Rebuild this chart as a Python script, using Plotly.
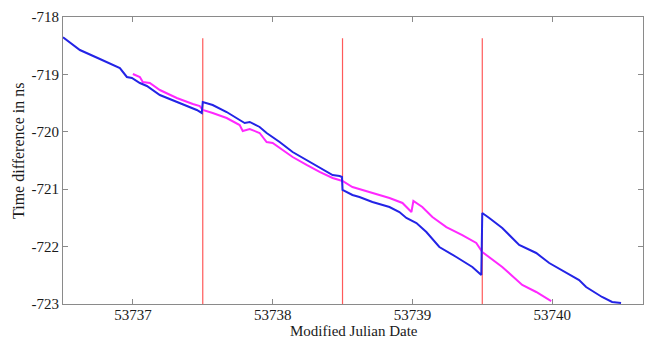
import plotly.graph_objects as go

# Blue series (MJD, time difference in ns)
blue_mjd = [53736.50, 53736.621, 53736.764, 53736.907, 53736.957, 53736.993, 53737.050, 53737.100,
            53737.193, 53737.314, 53737.407, 53737.457, 53737.493, 53737.500, 53737.571, 53737.671,
            53737.764, 53737.800, 53737.836, 53737.907, 53737.957, 53738.050, 53738.143, 53738.243,
            53738.336, 53738.429, 53738.479, 53738.496, 53738.500, 53738.571, 53738.621, 53738.714,
            53738.836, 53738.907, 53738.957, 53739.029, 53739.100, 53739.193, 53739.314, 53739.429,
            53739.493, 53739.500, 53739.550, 53739.643, 53739.764, 53739.886, 53739.979, 53740.071,
            53740.193, 53740.243, 53740.357, 53740.429, 53740.493]
blue_val = [-718.354, -718.575, -718.732, -718.889, -719.045, -719.063, -719.150, -719.202,
            -719.359, -719.481, -719.568, -719.620, -719.672, -719.480, -719.533, -719.655,
            -719.794, -719.847, -719.829, -719.916, -720.021, -720.178, -720.352, -720.491,
            -720.613, -720.753, -720.770, -720.787, -721.010, -721.101, -721.136, -721.223,
            -721.310, -721.397, -721.502, -721.589, -721.746, -722.007, -722.181, -722.355,
            -722.495, -721.415, -721.502, -721.676, -721.972, -722.111, -722.286, -722.408,
            -722.582, -722.704, -722.878, -722.965, -722.983]

# Magenta series
mag_mjd = [53737.000, 53737.050, 53737.071, 53737.121, 53737.193, 53737.314, 53737.429, 53737.479,
           53737.500, 53737.571, 53737.671, 53737.764, 53737.786, 53737.836, 53737.907, 53737.957,
           53738.000, 53738.071, 53738.143, 53738.243, 53738.336, 53738.429, 53738.500, 53738.571,
           53738.714, 53738.836, 53738.929, 53738.993, 53739.007, 53739.071, 53739.143, 53739.243,
           53739.357, 53739.457, 53739.500, 53739.550, 53739.643, 53739.786, 53739.886, 53739.993]
mag_val = [-718.993, -719.045, -719.132, -719.150, -719.272, -719.411, -719.516, -719.551,
           -719.620, -719.672, -719.760, -719.882, -719.986, -719.951, -720.021, -720.178,
           -720.195, -720.317, -720.439, -720.578, -720.700, -720.805, -720.857, -720.962,
           -721.066, -721.153, -721.240, -721.397, -721.206, -721.310, -721.484, -721.659,
           -721.798, -721.937, -722.094, -722.181, -722.355, -722.669, -722.791, -722.948]

# Red vertical markers
red_mjd = [53737.5, 53738.5, 53739.5]
red_bottom = -723.0
red_top = -718.37

x_ticks = [53737, 53738, 53739, 53740]
y_ticks = [-723, -722, -721, -720, -719, -718]

fig = go.Figure()
for m in red_mjd:
    fig.add_trace(go.Scatter(x=[m, m], y=[red_bottom, red_top], mode="lines",
                             line=dict(color="rgb(255,90,90)", width=1.2), hoverinfo="skip"))
fig.add_trace(go.Scatter(x=mag_mjd, y=mag_val, mode="lines",
                         line=dict(color="rgb(255,40,255)", width=2)))
fig.add_trace(go.Scatter(x=blue_mjd, y=blue_val, mode="lines",
                         line=dict(color="rgb(35,35,230)", width=2)))

font_family = "Liberation Serif, Times New Roman, serif"
text_color = "#1a1a1a"
axis_common = dict(showgrid=False, zeroline=False, showline=True, linecolor="#8a8a8a",
                   linewidth=1, mirror="ticks", ticks="inside", ticklen=5, tickcolor="#8a8a8a",
                   automargin=False,
                   tickfont=dict(family=font_family, size=15, color=text_color))

fig.update_layout(
    width=649, height=338,
    margin=dict(l=63, r=6, t=17, b=34),
    paper_bgcolor="white", plot_bgcolor="white",
    showlegend=False,
    xaxis=dict(range=[53736.5, 53740.65], tickvals=x_ticks, ticktext=[str(t) for t in x_ticks],
               ticklabelstandoff=-3, **axis_common),
    yaxis=dict(range=[-723, -718], tickvals=y_ticks, ticktext=[str(t) for t in y_ticks],
               **axis_common),
    annotations=[
        dict(text="Modified Julian Date", xref="paper", yref="paper", x=0.501, y=-0.094,
             xanchor="center", yanchor="middle", showarrow=False,
             font=dict(family=font_family, size=15, color=text_color)),
        dict(text="Time difference in ns", xref="paper", yref="paper", x=-0.0776, y=0.533,
             xanchor="center", yanchor="middle", showarrow=False, textangle=-90,
             font=dict(family=font_family, size=16, color=text_color)),
    ],
)

fig.write_html("out.html", config={"displayModeBar": False},
               post_script="document.body.style.margin='0';document.body.style.padding='0';")
